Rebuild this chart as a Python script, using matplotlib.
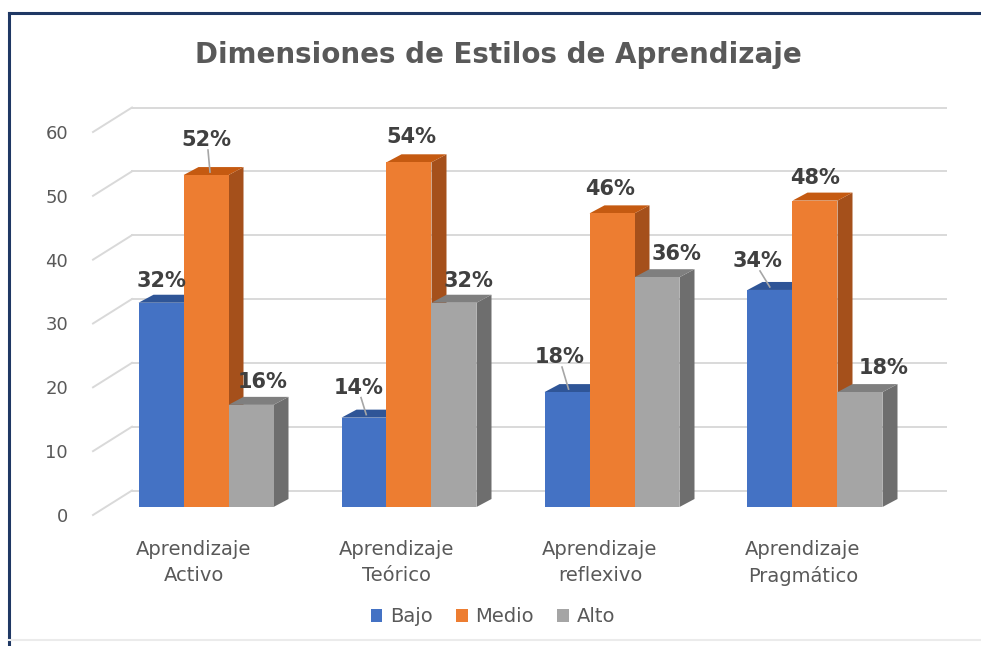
import matplotlib

matplotlib.use("Agg")
import matplotlib.pyplot as plt  # noqa: E402
from matplotlib.lines import Line2D  # noqa: E402
from matplotlib.patches import Patch, Polygon  # noqa: E402

# ---- data ----
categories = ["Aprendizaje\nActivo", "Aprendizaje\nTeórico", "Aprendizaje\nreflexivo", "Aprendizaje\nPragmático"]
series_names = ["Bajo", "Medio", "Alto"]
bajo = [32, 14, 18, 34]
medio = [52, 54, 46, 48]
alto = [16, 32, 36, 18]
y_ticks = [0, 10, 20, 30, 40, 50, 60]
title = "Dimensiones de Estilos de Aprendizaje"

# ---- style ----
W, H = 981, 646
PX_X = 203.0          # px per category step
PX_Y = 383.0 / 60     # px per value unit
front = ["#4472C4", "#ED7D31", "#A5A5A5"]
top_c = ["#2F5597", "#C55A11", "#7F7F7F"]
side_c = ["#2F5597", "#A5501B", "#6E6E6E"]
TXT = "#595959"
LBL = "#404040"
GRID = "#D9D9D9"

bar_w = 45 / PX_X
wall_dx, wall_dy = 39 / PX_X, 24.5 / PX_Y      # back wall depth
plane_dx, plane_dy = 12 / PX_X, 8 / PX_Y       # bars sit a bit behind the front plane
bar_dx, bar_dy = 15 / PX_X, 8 / PX_Y           # bar depth

# label offsets (px) from the bar's front top-centre, and which get a leader line
label_off = [
    [(0, 22), (-5, 30), (-7, 35), (-12, 29)],
    [(0, 35), (2, 25), (-2, 24), (0, 23)],
    [(12, 23), (15, 22), (20, 23), (24, 24)],
]
leader = [
    [False, True, True, True],
    [True, False, False, False],
    [False, False, False, False],
]

fig = plt.figure(figsize=(W / 100, H / 100), dpi=100)
ax = fig.add_axes([93 / W, (H - 515) / H, (907 - 93) / W, (515 - 132) / H])
x_left = (93 - 194) / PX_X
x_right = (907 - 194) / PX_X
ax.set_xlim(x_left, x_right)
ax.set_ylim(0, 60)
for s in ax.spines.values():
    s.set_visible(False)
ax.patch.set_alpha(0)

# back wall gridlines + left wall diagonals
for v in y_ticks:
    ax.plot([x_left + wall_dx, x_right + wall_dx], [v + wall_dy, v + wall_dy],
            color=GRID, lw=1.4, clip_on=False, zorder=1)
    ax.plot([x_left, x_left + wall_dx], [v, v + wall_dy],
            color=GRID, lw=1.4, clip_on=False, zorder=1)

values = [bajo, medio, alto]
z = 2
for i in range(len(categories)):
    for k, vals in enumerate(values):
        v = vals[i]
        x0 = i + plane_dx + (k - 1.5) * bar_w
        x1 = x0 + bar_w
        b = plane_dy
        t = plane_dy + v
        side = Polygon([(x1, b), (x1 + bar_dx, b + bar_dy), (x1 + bar_dx, t + bar_dy), (x1, t)],
                       closed=True, fc=side_c[k], ec="none", clip_on=False, zorder=z)
        topf = Polygon([(x0, t), (x1, t), (x1 + bar_dx, t + bar_dy), (x0 + bar_dx, t + bar_dy)],
                       closed=True, fc=top_c[k], ec="none", clip_on=False, zorder=z)
        frontf = Polygon([(x0, b), (x1, b), (x1, t), (x0, t)],
                         closed=True, fc=front[k], ec="none", clip_on=False, zorder=z + 0.5)
        ax.add_patch(side)
        ax.add_patch(topf)
        ax.add_patch(frontf)
        z += 1

        cx = (x0 + x1) / 2
        ox, oy = label_off[k][i]
        lx, ly = cx + ox / PX_X, t + oy / PX_Y
        ax.text(lx, ly, f"{v}%", ha="center", va="center", fontsize=15,
                fontweight="bold", color=LBL, zorder=100, clip_on=False)
        if leader[k][i]:
            ax.plot([lx + 2 / PX_X, cx + (ox * 0.35 + 4) / PX_X],
                    [ly - 10 / PX_Y, t + 3 / PX_Y],
                    color="#A6A6A6", lw=1.2, zorder=100, clip_on=False)

ax.set_yticks(y_ticks)
ax.set_yticklabels([str(v) for v in y_ticks], fontsize=13, color=TXT)
ax.tick_params(axis="y", length=0, pad=18)
ax.set_xticks(range(len(categories)))
ax.set_xticklabels(categories, fontsize=14, color=TXT, linespacing=1.45)
ax.tick_params(axis="x", length=0, pad=18)

fig.text(498 / W, 1 - 55 / H, title, ha="center", va="center",
         fontsize=20, fontweight="bold", color=TXT)

handles = [Patch(facecolor=c, edgecolor="none") for c in front]
fig.legend(handles, series_names, loc="center", bbox_to_anchor=(493 / W, 1 - 617 / H),
           ncol=3, frameon=False, fontsize=14, labelcolor=TXT,
           handlelength=0.6, handleheight=0.6, handletextpad=0.4, columnspacing=1.2)

# frame around the chart
fig.add_artist(Line2D([9 / W, 1], [1 - 13 / H, 1 - 13 / H], color="#1F3864", lw=2.2))
fig.add_artist(Line2D([9 / W, 9 / W], [1 - 13 / H, 0], color="#1F3864", lw=2.2))
fig.add_artist(Line2D([9 / W, 1], [1 - 640 / H, 1 - 640 / H], color="#EBEBEB", lw=1.5))

fig.savefig("out.png", dpi=100)
